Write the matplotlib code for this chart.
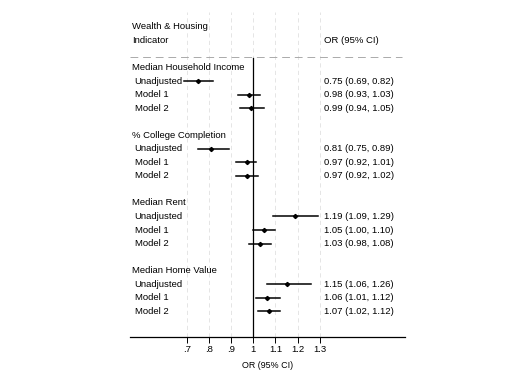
import matplotlib.pyplot as plt

plt.rcParams['font.family'] = ['Liberation Sans', 'DejaVu Sans']

groups = ['Median Household Income', '% College Completion', 'Median Rent', 'Median Home Value']
models = ['Unadjusted', 'Model 1', 'Model 2']
odds = [[0.75, 0.98, 0.99], [0.81, 0.97, 0.97], [1.19, 1.05, 1.03], [1.15, 1.06, 1.07]]
lower = [[0.69, 0.93, 0.94], [0.75, 0.92, 0.92], [1.09, 1.00, 0.98], [1.06, 1.01, 1.02]]
upper = [[0.82, 1.03, 1.05], [0.89, 1.01, 1.02], [1.29, 1.10, 1.08], [1.26, 1.12, 1.12]]
ticks = [0.7, 0.8, 0.9, 1.0, 1.1, 1.2, 1.3]
tick_labels = ['.7', '.8', '.9', '1', '1.1', '1.2', '1.3']

fs = 6.8
fig = plt.figure(figsize=(5.28, 3.84), dpi=100)
W, H = 528, 384
ax = fig.add_axes([130 / W, 1 - 337 / H, 275 / W, 325 / H])

xmin, xmax = 0.445, 1.683
ax.set_xlim(xmin, xmax)
ax.set_ylim(19.9, -4.1)

# light vertical grid
for t in ticks:
    ax.axvline(t, color='#e0e0e0', lw=0.6, ls=(0, (5, 4)), zorder=0)

# header
ax.text(xmin + 0.009, -3, 'Wealth & Housing', fontsize=fs, va='center', ha='left')
ax.text(xmin + 0.009, -2, 'Indicator', fontsize=fs, va='center', ha='left')
ax.text(1.32, -2, 'OR (95% CI)', fontsize=fs, va='center', ha='left')
ax.axhline(-0.76, color='#aaaaaa', lw=0.7, ls=(0, (8, 5)), xmax=(402 - 130) / 275)

ax.plot([1, 1], [-0.7, 19.9], color='black', lw=0.9, zorder=2)

row = 0
for g, name in enumerate(groups):
    ax.text(xmin + 0.009, row, name, fontsize=fs, va='center', ha='left')
    for m, mname in enumerate(models):
        y = row + 1 + m
        ax.text(xmin + 0.021, y, mname, fontsize=fs, va='center', ha='left')
        ax.plot([lower[g][m], upper[g][m]], [y, y], color='black', lw=1.1, zorder=3)
        ax.plot(odds[g][m], y, marker='D', ms=2.1, color='black', zorder=4)
        ax.text(1.32, y, f'{odds[g][m]:.2f} ({lower[g][m]:.2f}, {upper[g][m]:.2f})',
                fontsize=fs, va='center', ha='left')
    row += 5

for s in ['top', 'right', 'left']:
    ax.spines[s].set_visible(False)
ax.spines['bottom'].set_linewidth(0.9)
ax.set_yticks([])
ax.set_xticks(ticks)
ax.set_xticklabels(tick_labels, fontsize=fs)
ax.tick_params(axis='x', direction='out', length=4, width=0.7, pad=2)
ax.set_xlabel('OR (95% CI)', fontsize=fs - 0.4, labelpad=5)

fig.savefig('out.png', dpi=100)
